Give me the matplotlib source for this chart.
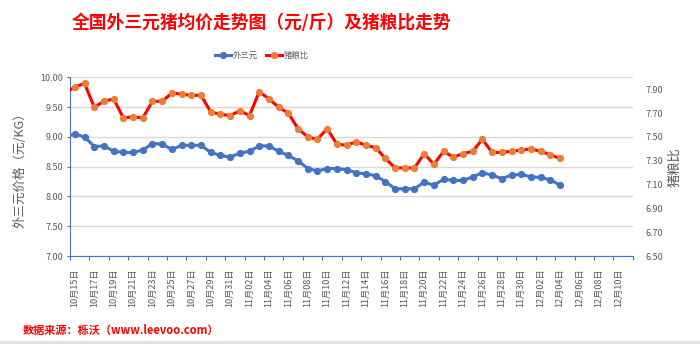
import numpy as np
import pandas as pd
import matplotlib
matplotlib.use("Agg")
import matplotlib.pyplot as plt

plt.rcParams['font.family'] = ['Noto Sans CJK SC', 'DejaVu Sans']

# daily series, 10/14 - 12/04
dates = pd.date_range('2018-10-14', '2018-12-04')

# 外三元 average price
price = [9.00,
         9.05, 9.00, 8.84, 8.85, 8.76, 8.74, 8.74, 8.78, 8.89, 8.88, 8.79, 8.86, 8.86, 8.86, 8.74, 8.69, 8.66,
         8.73, 8.76, 8.85, 8.85, 8.76, 8.69, 8.60, 8.47, 8.43, 8.47, 8.47, 8.45, 8.40, 8.38, 8.35, 8.25, 8.13,
         8.13, 8.13, 8.24, 8.19, 8.29, 8.27, 8.27, 8.33, 8.40, 8.36, 8.30, 8.36, 8.37, 8.33, 8.32, 8.28, 8.19]

# 猪粮比 (hog / grain ratio)
ratio = [7.87,
         7.92, 7.95, 7.75, 7.80, 7.82, 7.66, 7.67, 7.66, 7.80, 7.80, 7.87, 7.86, 7.85, 7.85, 7.71, 7.69, 7.68,
         7.72, 7.68, 7.88, 7.82, 7.75, 7.70, 7.57, 7.50, 7.48, 7.57, 7.44, 7.43, 7.46, 7.43, 7.41, 7.32, 7.24,
         7.24, 7.24, 7.36, 7.27, 7.38, 7.33, 7.36, 7.38, 7.48, 7.37, 7.37, 7.38, 7.39, 7.40, 7.38, 7.35, 7.32]

# date axis runs 10/15 - 12/11, labelled every other day
axis_days = pd.date_range('2018-10-15', '2018-12-11')
start = axis_days[0]
x = np.array((dates - start).days)
label_days = axis_days[::2]
label_x = np.array((label_days - start).days)
labels = [f"{d.month}月{d.day:02d}日" for d in label_days]

BLUE = '#4472C4'
GRAY = '#595959'

fig = plt.figure(figsize=(7, 3.44), dpi=100)
ax = fig.add_axes([0.1, 0.2558, 0.804, 0.519])
ax2 = ax.twinx()

ax.plot(x, price, color=BLUE, lw=2.2, marker='o', ms=4.2, mfc=BLUE, mec=BLUE, label='外三元')
ax2.plot(x, ratio, color='#FF0000', lw=2.2, marker='o', ms=4.2, mfc='#ED7D31', mec='#ED7D31', label='猪粮比')

ax.set_xlim(-0.5, len(axis_days) - 0.5)
ax.set_ylim(7.0, 10.0)
ax.set_yticks(np.arange(7.0, 10.01, 0.5))
ax.set_yticklabels([f"{v:.2f}" for v in np.arange(7.0, 10.01, 0.5)])
ax2.set_ylim(6.5, 8.0)
ax2.set_yticks(np.arange(6.5, 7.91, 0.2))
ax2.set_yticklabels([f"{v:.2f}" for v in np.arange(6.5, 7.91, 0.2)])

ax.set_xticks(label_x)
ax.set_xticklabels(labels, rotation=90)
ax.set_xticks(np.arange(-0.5, len(axis_days), 2), minor=True)
ax.tick_params(axis='x', which='major', length=0, pad=9, labelsize=6.6, labelcolor=GRAY)
ax.tick_params(axis='x', which='minor', length=3, width=0.8, color=BLUE)
ax.tick_params(axis='y', length=2, width=0.8, color=BLUE, labelsize=6.5, labelcolor=GRAY, pad=3)
ax2.tick_params(axis='y', length=0, labelsize=6.5, labelcolor=GRAY, pad=9)

ax.grid(axis='y', color='#D9D9D9', lw=1)
ax.set_axisbelow(True)
for s in ['top', 'right']:
    ax.spines[s].set_visible(False)
for s in ax2.spines.values():
    s.set_visible(False)
ax.spines['left'].set_color(BLUE)
ax.spines['bottom'].set_color(BLUE)

ax.set_ylabel('外三元价格（元/KG）', fontsize=9, color=GRAY, labelpad=10)
ax2.set_ylabel('猪粮比', fontsize=9.5, color=GRAY, labelpad=4)

fig.text(261 / 700, 1 - 23 / 344, '全国外三元猪均价走势图（元/斤）及猪粮比走势',
         ha='center', va='center', fontsize=12.8, fontweight='bold', color='#FF0000')

h1, l1 = ax.get_legend_handles_labels()
h2, l2 = ax2.get_legend_handles_labels()
fig.legend(h1 + h2, l1 + l2, loc='center', bbox_to_anchor=(262 / 700, 1 - 55 / 344), ncol=2,
           frameon=False, fontsize=6, labelcolor=GRAY, handlelength=2.0, handletextpad=0.2,
           columnspacing=0.9)

fig.text(23 / 700, 1 - 330 / 344, '数据来源：栎沃（www.leevoo.com）', ha='left', va='center',
         fontsize=8, fontweight='bold', color='#FF0000')

# thin sheet band along the bottom edge
fig.patches.append(plt.Rectangle((0, 0), 1, 3 / 344, transform=fig.transFigure,
                                 color='#E3E3E3', zorder=0))

fig.savefig('out.png', dpi=100)
